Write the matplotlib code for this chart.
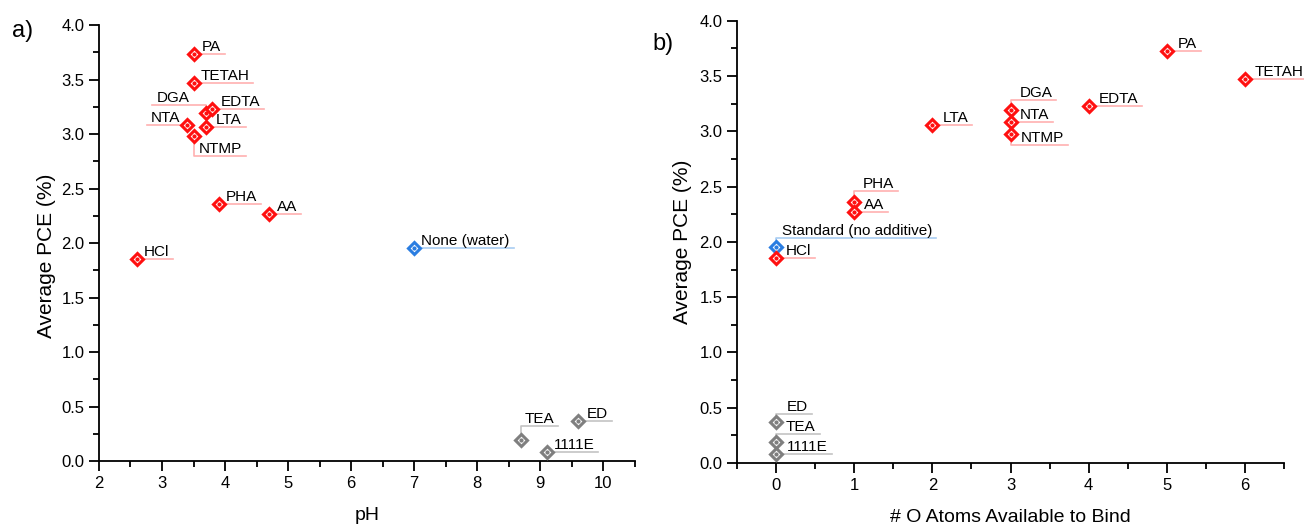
import matplotlib
matplotlib.use('Agg')
import matplotlib.pyplot as plt
from matplotlib.ticker import MultipleLocator

plt.rcParams['font.family'] = ['Liberation Sans', 'DejaVu Sans']

# panel a) : PCE vs pH
names_a = ['PA', 'TETAH', 'DGA', 'EDTA', 'NTA', 'LTA', 'NTMP', 'PHA', 'AA', 'HCl',
           'None (water)', 'TEA', 'ED', '1111E']
ph = [3.5, 3.5, 3.7, 3.8, 3.4, 3.7, 3.5, 3.9, 4.7, 2.6, 7.0, 8.7, 9.6, 9.1]
pce_a = [3.73, 3.47, 3.19, 3.23, 3.08, 3.06, 2.98, 2.36, 2.27, 1.85, 1.95, 0.19, 0.37, 0.08]
kind_a = ['r', 'r', 'r', 'r', 'r', 'r', 'r', 'r', 'r', 'r', 'b', 'g', 'g', 'g']

# panel b) : PCE vs number of O atoms
names_b = ['PA', 'TETAH', 'EDTA', 'DGA', 'NTA', 'NTMP', 'LTA', 'PHA', 'AA',
           'Standard (no additive)', 'HCl', 'ED', 'TEA', '1111E']
n_o = [5, 6, 4, 3, 3, 3, 2, 1, 1, 0, 0, 0, 0, 0]
pce_b = [3.73, 3.47, 3.23, 3.19, 3.08, 2.98, 3.06, 2.36, 2.27, 1.95, 1.85, 0.37, 0.19, 0.08]
kind_b = ['r', 'r', 'r', 'r', 'r', 'r', 'r', 'r', 'r', 'b', 'r', 'g', 'g', 'g']

colors = {'r': ('#ff1010', '#ffb0b0'), 'b': ('#2a7de1', '#a9cdf2'), 'g': ('#7f7f7f', '#c4c4c4')}

# label placement (pixels): side, text x offset, underline y offset
place_a = {'PA': ('r', 8, 0), 'TETAH': ('r', 7, 0), 'DGA': ('l', 17, 8), 'EDTA': ('r', 8, 0),
           'NTA': ('l', 7, 0), 'LTA': ('r', 10, 0), 'NTMP': ('r', 5, -20), 'PHA': ('r', 7, 0),
           'AA': ('r', 8, 0), 'HCl': ('r', 7, 0), 'None (water)': ('r', 7, 0),
           'TEA': ('r', 3, 14), 'ED': ('r', 9, 0), '1111E': ('r', 7, 0)}
place_b = {'PA': ('r', 11, 0), 'TETAH': ('r', 10, 0), 'EDTA': ('r', 10, 0), 'DGA': ('r', 9, 10),
           'NTA': ('r', 9, 0), 'NTMP': ('r', 10, -11), 'LTA': ('r', 10, 0), 'PHA': ('r', 9, 11),
           'AA': ('r', 10, 0), 'Standard (no additive)': ('r', 6, 9), 'HCl': ('r', 10, 0),
           'ED': ('r', 11, 8), 'TEA': ('r', 10, 8), '1111E': ('r', 11, 0)}

fig = plt.figure(figsize=(13.04, 5.27), dpi=100)
ax1 = fig.add_axes([0.0759, 0.1252, 0.411, 0.8273])
ax2 = fig.add_axes([0.5652, 0.1214, 0.4195, 0.8393])


def style(ax, xlabel):
    for s in ['top', 'right']:
        ax.spines[s].set_visible(False)
    for s in ['left', 'bottom']:
        ax.spines[s].set_linewidth(1.3)
    ax.tick_params(which='major', direction='out', length=7, width=1.3, labelsize=12)
    ax.tick_params(which='minor', direction='out', length=4, width=1.3)
    ax.yaxis.set_major_locator(MultipleLocator(0.5))
    ax.yaxis.set_minor_locator(MultipleLocator(0.25))
    ax.xaxis.set_minor_locator(MultipleLocator(0.5))
    ax.set_ylim(0, 4.0)
    ax.set_ylabel('Average PCE (%)', fontsize=15, labelpad=5)
    ax.set_xlabel(xlabel, fontsize=14, labelpad=12)


style(ax1, 'pH')
ax1.set_xlim(2, 10.5)
ax1.xaxis.set_major_locator(MultipleLocator(1))
ax1.yaxis.set_label_coords(-0.08, 0.47)
style(ax2, '# O Atoms Available to Bind')
ax2.set_xlim(-0.5, 6.5)
ax2.set_xticks(range(0, 7))

fig.text(0.009, 0.93, 'a)', fontsize=17)
fig.text(0.5, 0.905, 'b)', fontsize=17)


def draw(ax, xs, ys, names, kinds, place):
    for x, y, k in zip(xs, ys, kinds):
        c = colors[k][0]
        ax.plot(x, y, marker='D', ms=6.5, mfc='white', mec=c, mew=2.2, zorder=4, clip_on=False)
        ax.plot(x, y, marker='o', ms=2, color=c, zorder=5, clip_on=False)
    fig.canvas.draw()
    r = fig.canvas.get_renderer()
    inv = ax.transData.inverted()
    for x, y, n, k in zip(xs, ys, names, kinds):
        side, dx, dy = place[n]
        px, py = ax.transData.transform((x, y))
        if side == 'r':
            t = ax.annotate(n, (x, y), xytext=(dx, dy + 3), textcoords='offset pixels',
                            ha='left', va='baseline', fontsize=11)
            bb = t.get_window_extent(r)
            x0 = px + (5 if dy == 0 else 0)
            x1 = bb.x1 + 4
        else:
            t = ax.annotate(n, (x, y), xytext=(-dx, dy + 3), textcoords='offset pixels',
                            ha='right', va='baseline', fontsize=11)
            bb = t.get_window_extent(r)
            x0 = bb.x0 - 4
            x1 = px
        pts = [(x0, py + dy), (x1, py + dy)]
        if dy != 0:
            pts = [(px, py)] + pts if side == 'r' else pts + [(px, py)]
        d = inv.transform(pts)
        ax.plot(d[:, 0], d[:, 1], color=colors[k][1], lw=1.2, zorder=2, clip_on=False)


draw(ax1, ph, pce_a, names_a, kind_a, place_a)
draw(ax2, n_o, pce_b, names_b, kind_b, place_b)

fig.savefig('out.png', dpi=100)
